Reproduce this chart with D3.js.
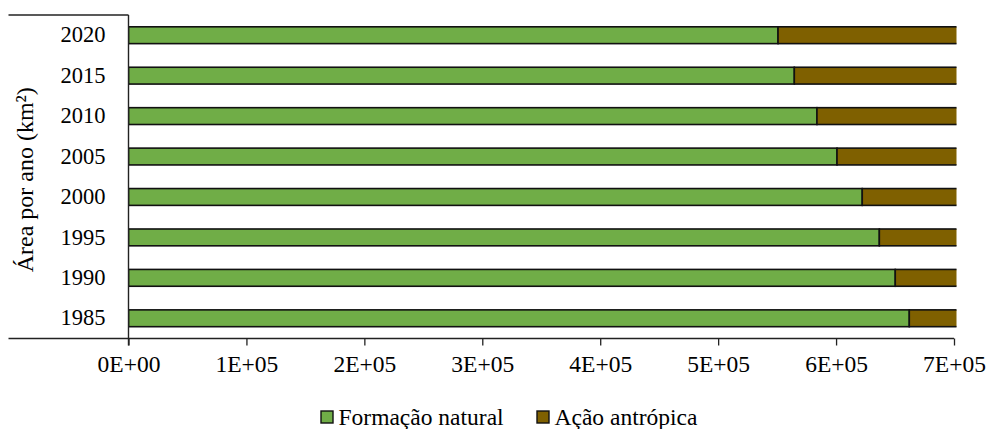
<!DOCTYPE html>
<html>
<head>
<meta charset="utf-8">
<script src="https://cdn.jsdelivr.net/npm/d3@7"></script>
<style>
  html, body { margin: 0; padding: 0; background: #fff; }
  svg text { font-family: "Liberation Serif", "Times New Roman", serif; fill: #000; }
</style>
</head>
<body>
<svg id="chart" width="989" height="429"></svg>
<script>
// ---- data ----
const years = ["2020", "2015", "2010", "2005", "2000", "1995", "1990", "1985"];
const natural = [550800, 564600, 583800, 600800, 622200, 636700, 650200, 662100];
const antropica = [155000, 141200, 122000, 105000, 83600, 69100, 55600, 43700];
const xTicks = [0, 100000, 200000, 300000, 400000, 500000, 600000, 700000];
const xTickLabels = ["0E+00", "1E+05", "2E+05", "3E+05", "4E+05", "5E+05", "6E+05", "7E+05"];
const seriesNames = ["Formação natural", "Ação antrópica"];
const seriesColors = ["#70AD47", "#7F6000"];
const yTitle = "Área por ano (km²)";

// ---- layout ----
const svg = d3.select("#chart");
const mLeft = 128.5, mRight = 954, mTop = 15, mBottom = 338.5;
const FONT = '"Liberation Serif", "Times New Roman", serif';

const x = d3.scaleLinear().domain([0, 700000]).range([mLeft, mRight]);
const y = d3.scaleBand().domain(years).range([mTop, mBottom]).paddingInner(0.584).paddingOuter(0.292);

const rows = years.map((yr, i) => ({ year: yr, natural: natural[i], antropica: antropica[i] }));
const stack = d3.stack().keys(["natural", "antropica"])(rows);

svg.append("defs").append("clipPath").attr("id", "plotclip")
  .append("rect").attr("x", mLeft).attr("y", mTop - 2).attr("width", mRight - mLeft + 2.5).attr("height", mBottom - mTop + 4);

const plot = svg.append("g").attr("clip-path", "url(#plotclip)");
stack.forEach((layer, si) => {
  plot.append("g").selectAll("rect").data(layer).join("rect")
    .attr("x", d => x(d[0]))
    .attr("y", d => y(d.data.year))
    .attr("width", d => x(d[1]) - x(d[0]))
    .attr("height", y.bandwidth())
    .attr("fill", seriesColors[si])
    .attr("stroke", "#111")
    .attr("stroke-width", 1.6);
});

// ---- x axis ----
const xAxis = svg.append("g").attr("transform", `translate(0,${mBottom})`)
  .call(d3.axisBottom(x).tickValues(xTicks).tickFormat((d, i) => xTickLabels[i]).tickSize(7).tickSizeOuter(0));
xAxis.attr("font-family", FONT);
xAxis.select(".domain").remove();
xAxis.selectAll(".tick line").attr("stroke", "#222").attr("stroke-width", 1.3);
xAxis.selectAll(".tick text").attr("font-size", 23.5).attr("dy", 0).attr("y", 33.5)
  .style("font-family", FONT);

// axis lines
svg.append("line").attr("x1", 8.5).attr("x2", mRight).attr("y1", mBottom).attr("y2", mBottom)
  .attr("stroke", "#222").attr("stroke-width", 1.4);
svg.append("line").attr("x1", 8.5).attr("x2", mLeft).attr("y1", mTop).attr("y2", mTop)
  .attr("stroke", "#222").attr("stroke-width", 1.4);

// ---- y axis ----
const yAxis = svg.append("g").attr("transform", `translate(${mLeft},0)`)
  .call(d3.axisLeft(y).tickSize(0).tickPadding(23));
yAxis.attr("font-family", FONT);
yAxis.select(".domain").remove();
yAxis.selectAll(".tick text").attr("font-size", 22.5).attr("dy", "0.32em")
  .style("font-family", FONT);
svg.append("line").attr("x1", mLeft).attr("x2", mLeft).attr("y1", mTop).attr("y2", mBottom + 7)
  .attr("stroke", "#222").attr("stroke-width", 1.4);

// y title
svg.append("text")
  .attr("transform", `translate(33,${(mTop + mBottom) / 2 + 3}) rotate(-90)`)
  .attr("text-anchor", "middle")
  .attr("font-size", 24)
  .style("font-family", FONT)
  .text(yTitle);

// ---- legend ----
const legendItems = [{ x: 321, name: seriesNames[0], color: seriesColors[0] },
                     { x: 537, name: seriesNames[1], color: seriesColors[1] }];
const lg = svg.append("g");
legendItems.forEach(it => {
  lg.append("rect").attr("x", it.x).attr("y", 411).attr("width", 12).attr("height", 12)
    .attr("fill", it.color).attr("stroke", "#111").attr("stroke-width", 1.4);
  lg.append("text").attr("x", it.x + 17.5).attr("y", 424.5).attr("font-size", 23.5)
    .style("font-family", FONT).text(it.name);
});
</script>
</body>
</html>
